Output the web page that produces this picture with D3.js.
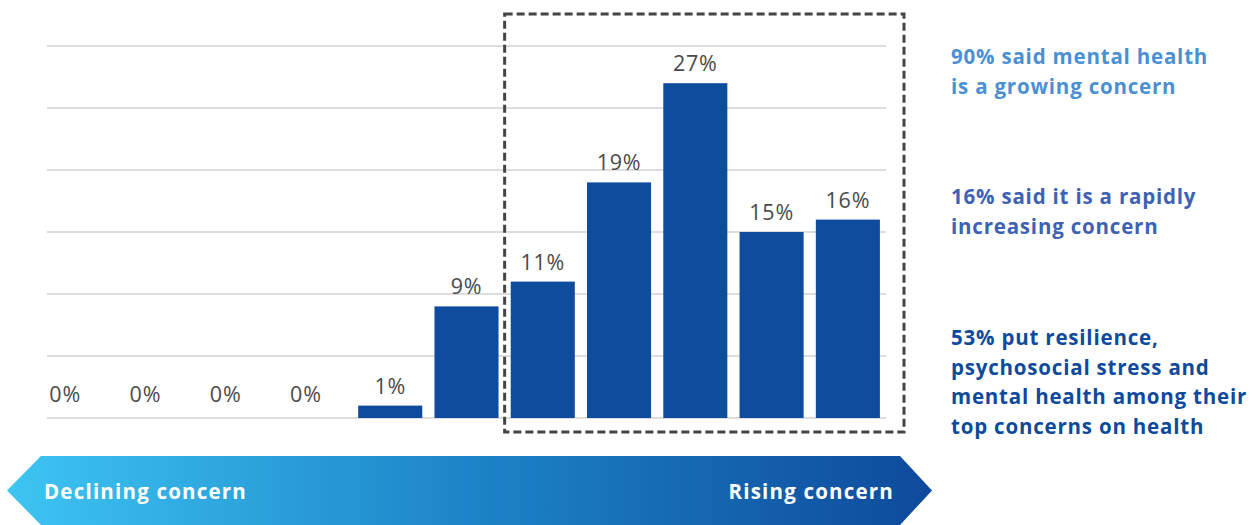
<!DOCTYPE html>
<html><head><meta charset="utf-8">
<script src="https://cdn.jsdelivr.net/npm/d3@7"></script>
<style>body{margin:0;background:#fff}svg{display:block}</style>
</head><body>
<svg id="c" width="1251" height="525"></svg>
<script>
const categories = ["1","2","3","4","5","6","7","8","9","10","11"];
const values = [0,0,0,0,1,9,11,19,27,15,16];
const valueLabels = ["0%","0%","0%","0%","1%","9%","11%","19%","27%","15%","16%"];
const gridTicks = [0,5,10,15,20,25,30];
const risingStart = "7";
const arrowLabels = ["Declining concern","Rising concern"];
const notes = [
  {lines:["90% said mental health","is a growing concern"], color:"#4a90d2", y:64},
  {lines:["16% said it is a rapidly","increasing concern"], color:"#3e62b3", y:204},
  {lines:["53% put resilience,","psychosocial stress and","mental health among their","top concerns on health"], color:"#0e4a9c", y:345}
];

const svg = d3.select("#c");
const x = d3.scaleBand().domain(categories).range([47,886]).paddingInner(0.16).paddingOuter(0.08);
const y = d3.scaleLinear().domain([0,30]).range([418,46]);

// gridlines
svg.append("g").selectAll("line").data(gridTicks).join("line")
  .attr("x1",47).attr("x2",886)
  .attr("y1",d=>y(d)).attr("y2",d=>y(d))
  .attr("stroke","#d2d2d2").attr("stroke-width",1.5);

// bars
svg.append("g").selectAll("rect").data(values).join("rect")
  .attr("x",(d,i)=>x(categories[i]))
  .attr("width",x.bandwidth())
  .attr("y",d=>y(d))
  .attr("height",d=>y(0)-y(d))
  .attr("fill","#0f4c9e");

// value labels (zero labels sit slightly left in the original)
svg.append("g").selectAll("text").data(values).join("text")
  .attr("x",(d,i)=>x(categories[i])+x.bandwidth()/2 - (d===0 ? 20-4*i : 0))
  .attr("y",d=>y(d)-(d===0?16:12))
  .attr("text-anchor","middle")
  .attr("font-family","'Open Sans', sans-serif")
  .attr("font-size",21.5)
  .attr("letter-spacing",0.8)
  .attr("fill","#4a4a4a")
  .text((d,i)=>valueLabels[i]);

// dashed box
const gap = x.step()-x.bandwidth();
const bx0 = x(risingStart)-gap/2;
const bx1 = 904;
svg.append("rect")
  .attr("x",bx0).attr("y",y(30)-32)
  .attr("width",bx1-bx0).attr("height",(y(0)+14)-(y(30)-32))
  .attr("fill","none").attr("stroke","#444").attr("stroke-width",3)
  .attr("stroke-dasharray","8,4");

// arrow
const defs = svg.append("defs");
const grad = defs.append("linearGradient").attr("id","ag").attr("x1","0%").attr("x2","100%");
grad.append("stop").attr("offset","0%").attr("stop-color","#3ec5f2");
grad.append("stop").attr("offset","50%").attr("stop-color","#1c84c8");
grad.append("stop").attr("offset","100%").attr("stop-color","#0e4a9c");
const at=456, ab=525, am=(at+ab)/2;
svg.append("path")
  .attr("d",`M7,${am} L41,${at} L900,${at} L932,${am} L900,${ab} L41,${ab} Z`)
  .attr("fill","url(#ag)");
svg.append("text").attr("x",44).attr("y",499)
  .attr("font-family","'Open Sans', sans-serif").attr("font-weight",700).attr("font-size",20.5)
  .attr("letter-spacing",1.2)
  .attr("fill","#fff").text(arrowLabels[0]);
svg.append("text").attr("x",894).attr("y",499).attr("text-anchor","end")
  .attr("font-family","'Open Sans', sans-serif").attr("font-weight",700).attr("font-size",20.5)
  .attr("letter-spacing",1.2)
  .attr("fill","#fff").text(arrowLabels[1]);

// notes
notes.forEach(n=>{
  const t = svg.append("text").attr("x",951).attr("y",n.y)
    .attr("font-family","'Open Sans', sans-serif").attr("font-weight",700).attr("font-size",20.5)
    .attr("letter-spacing",0.8)
    .attr("fill",n.color);
  n.lines.forEach((l,i)=>t.append("tspan").attr("x",951).attr("dy",i===0?0:29.5).text(l));
});
</script>
</body></html>
